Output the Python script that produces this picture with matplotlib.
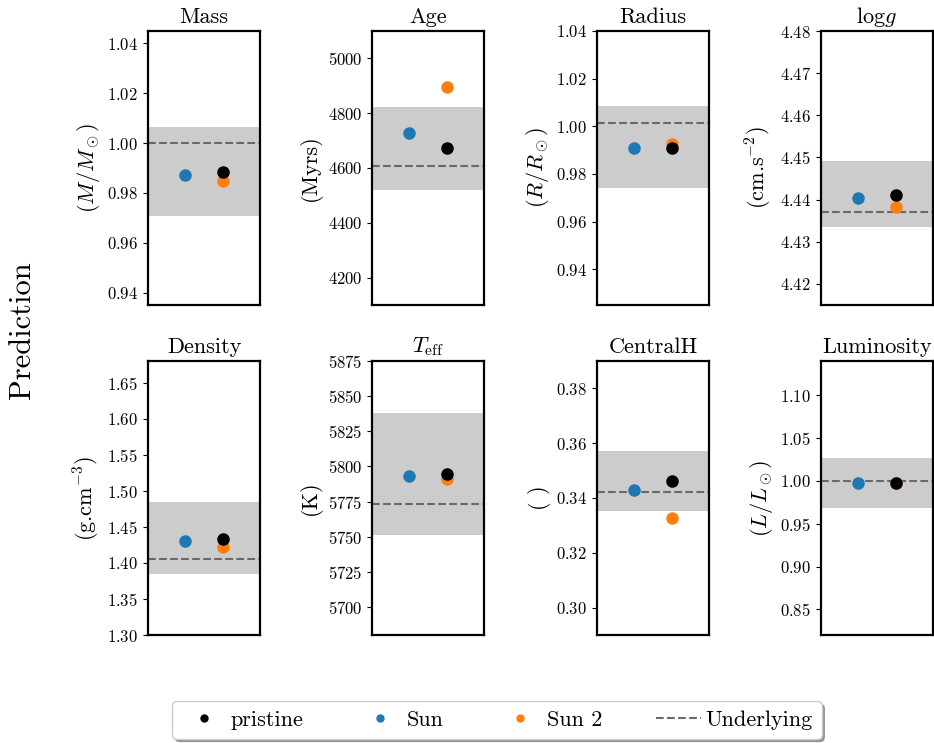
import matplotlib
matplotlib.use("Agg")
import matplotlib.pyplot as plt
from matplotlib.lines import Line2D

plt.rcParams['font.family'] = ['cmr10', 'DejaVu Serif']
plt.rcParams['mathtext.fontset'] = 'cm'
plt.rcParams['axes.formatter.use_mathtext'] = True
plt.rcParams['axes.unicode_minus'] = False

titles = ['Mass', 'Age', 'Radius', r'log$g$',
          'Density', r'$T_{\rm eff}$', 'CentralH', 'Luminosity']
units = [r'$(M/M_\odot)$', '(Myrs)', r'$(R/R_\odot)$', r'(cm.s$^{-2}$)',
         r'(g.cm$^{-3}$)', '(K)', '( )', r'$(L/L_\odot)$']

# predictions
pristine = [0.9883, 4674, 0.9908, 4.4410, 1.4328, 5794.6, 0.3461, 0.997]
sun = [0.9872, 4728, 0.9910, 4.4404, 1.4309, 5793.4, 0.3428, 0.997]
sun2 = [0.9847, 4894, 0.9925, 4.4383, 1.4218, 5791.0, 0.3327, 0.997]

# underlying value and its uncertainty band
underlying = [1.000, 4607, 1.0015, 4.4371, 1.4057, 5773, 0.3421, 1.000]
band_lo = [0.9708, 4521, 0.974, 4.4335, 1.3846, 5751.5, 0.3351, 0.968]
band_hi = [1.0064, 4823, 1.0084, 4.4492, 1.4849, 5837.8, 0.3570, 1.027]

ylims = [(0.935, 1.045), (4100, 5100), (0.925, 1.04), (4.415, 4.48),
         (1.30, 1.68), (5680, 5875), (0.29, 0.39), (0.82, 1.14)]

fig = plt.figure(figsize=(9.34, 7.43), dpi=100)

lefts = [148, 372, 597, 821]
tops = [31, 361]
W, H = 934, 743
for i in range(8):
    r, c = divmod(i, 4)
    ax = fig.add_axes([lefts[c] / W, 1 - (tops[r] + 274) / H, 112 / W, 274 / H])
    ax.axhspan(band_lo[i], band_hi[i], color='#cccccc', lw=0)
    ax.axhline(underlying[i], color='dimgray', ls='--', lw=1.5)
    ax.plot(1, sun[i], 'o', color='#1f77b4', ms=8)
    ax.plot(2, sun2[i], 'o', color='#ff7f0e', ms=8)
    ax.plot(2, pristine[i], 'o', color='black', ms=8)
    ax.set_xlim(0, 3)
    ax.set_ylim(*ylims[i])
    ax.set_xticks([])
    ax.set_title(titles[i], fontsize=16)
    ax.set_ylabel(units[i], fontsize=16)
    ax.tick_params(axis='y', labelsize=12)
    for s in ax.spines.values():
        s.set_linewidth(1.6)

fig.text(22 / W, 1 - 330 / H, 'Prediction', rotation=90, fontsize=22,
         ha='center', va='center')

handles = [
    Line2D([], [], ls='', marker='o', color='black', ms=5),
    Line2D([], [], ls='', marker='o', color='#1f77b4', ms=5),
    Line2D([], [], ls='', marker='o', color='#ff7f0e', ms=5),
    Line2D([], [], ls='--', color='dimgray', lw=1.5),
]
fig.legend(handles, ['pristine', 'Sun', 'Sun 2', 'Underlying'], ncol=4,
           loc='center', bbox_to_anchor=(497 / W, 1 - 720 / H),
           fontsize=16, shadow=True, handletextpad=0.2, columnspacing=2.45)

fig.savefig('out.png', dpi=100)
